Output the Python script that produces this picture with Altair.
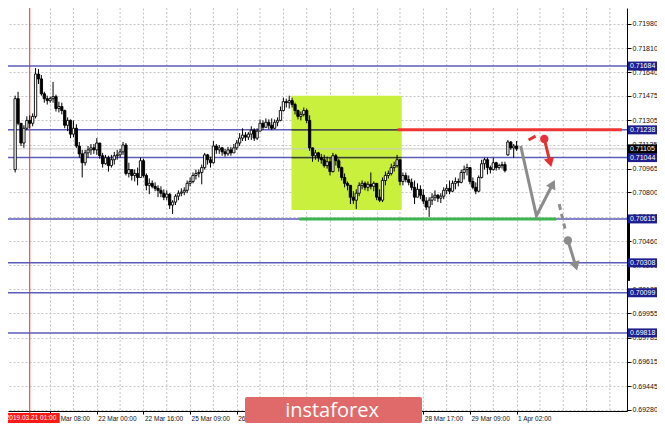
import altair as alt
import pandas as pd

# H1 candles, bar index 0 = 2019.03.21 01:00; prices in 1e-5 units
FIRST_BAR = -5
opens_e5 = [70960, 71456, 71284, 71146, 71249, 71304, 71284, 71332, 71628, 71594,
            71490, 71456, 71442, 71456, 71470, 71387, 71401, 71373, 71270, 71304,
            71208, 71249, 71125, 71070, 71008, 71077, 71098, 71112, 71098, 71146,
            71057, 71001, 71043, 70988, 71029, 71057, 71063, 71084, 71132, 70933,
            70960, 70919, 70933, 70905, 71022, 70919, 70850, 70864, 70843, 70829,
            70815, 70795, 70767, 70788, 70712, 70733, 70774, 70795, 70802, 70815,
            70864, 70877, 70919, 70933, 70940, 70974, 71063, 71029, 71008, 71125,
            71098, 71112, 71084, 71070, 71098, 71077, 71112, 71146, 71180, 71201,
            71187, 71208, 71236, 71180, 71229, 71284, 71256, 71291, 71270, 71249,
            71291, 71304, 71373, 71435, 71428, 71442, 71415, 71373, 71332, 71346,
            71373, 71304, 71112, 71057, 71077, 71043, 71029, 70988, 71015, 70946,
            71057, 71022, 70974, 70905, 70864, 70850, 70767, 70746, 70795, 70850,
            70864, 70836, 70857, 70843, 70864, 70767, 70746, 70884, 70919, 70933,
            70974, 70988, 71029, 70877, 70919, 70891, 70871, 70836, 70767, 70822,
            70781, 70740, 70698, 70746, 70767, 70781, 70760, 70774, 70815, 70829,
            70809, 70864, 70877, 70871, 70940, 70960, 70974, 70877, 70836, 70809,
            70905, 71001, 71029, 70974, 70960, 71008, 70974, 70988, 70995, 71063,
            71153, 71112, 71125]
highs_e5 = [71477, 71504, 71284, 71270, 71332, 71339, 71353, 71670, 71663, 71621,
            71504, 71477, 71470, 71573, 71484, 71435, 71428, 71380, 71325, 71311,
            71304, 71277, 71153, 71098, 71098, 71125, 71139, 71139, 71180, 71146,
            71077, 71063, 71057, 71063, 71084, 71098, 71105, 71153, 71146, 71008,
            70960, 70960, 70974, 71043, 71036, 70933, 70898, 70884, 70871, 70850,
            70843, 70822, 70815, 70795, 70746, 70788, 70815, 70829, 70836, 70884,
            70905, 70940, 70960, 70960, 70995, 71077, 71070, 71050, 71160, 71139,
            71132, 71119, 71105, 71119, 71119, 71139, 71167, 71215, 71249, 71222,
            71222, 71263, 71249, 71249, 71311, 71304, 71318, 71311, 71318, 71311,
            71325, 71401, 71463, 71456, 71477, 71463, 71428, 71380, 71366, 71394,
            71387, 71339, 71112, 71098, 71084, 71070, 71063, 71050, 71043, 71077,
            71070, 71036, 70981, 70933, 70877, 70850, 70809, 70822, 70871, 70884,
            70877, 70877, 70940, 70877, 70864, 70822, 70905, 70946, 70953, 71001,
            71015, 71063, 71029, 70940, 70940, 70919, 70898, 70884, 70864, 70850,
            70822, 70767, 70767, 70795, 70815, 70788, 70795, 70836, 70857, 70884,
            70884, 70905, 70898, 70960, 70988, 71001, 70974, 70905, 70871, 70919,
            71029, 71043, 71043, 70988, 71043, 71015, 71001, 71015, 71015, 71167,
            71160, 71139, 71160]
lows_e5 = [70940, 71270, 71125, 71112, 71236, 71249, 71263, 71318, 71559, 71477,
           71428, 71415, 71428, 71428, 71366, 71360, 71346, 71249, 71229, 71180,
           71187, 71112, 71043, 70905, 70988, 71043, 71063, 71070, 71063, 71036,
           70974, 70995, 70946, 70974, 70995, 71029, 71043, 71063, 70919, 70905,
           70884, 70877, 70850, 70905, 70905, 70815, 70788, 70829, 70809, 70767,
           70767, 70746, 70746, 70684, 70650, 70712, 70746, 70774, 70781, 70795,
           70843, 70864, 70891, 70905, 70857, 70960, 70995, 70974, 71001, 71070,
           71070, 71057, 71050, 71057, 71057, 71077, 71098, 71125, 71160, 71160,
           71167, 71167, 71160, 71167, 71229, 71236, 71256, 71242, 71236, 71242,
           71263, 71298, 71366, 71394, 71387, 71394, 71346, 71311, 71304, 71332,
           71284, 71091, 71015, 71029, 71015, 71001, 70974, 70967, 70919, 70940,
           70988, 70946, 70884, 70836, 70815, 70719, 70719, 70684, 70774, 70822,
           70815, 70809, 70822, 70809, 70746, 70733, 70733, 70850, 70898, 70919,
           70946, 70974, 70850, 70850, 70871, 70850, 70815, 70719, 70767, 70753,
           70719, 70678, 70629, 70712, 70740, 70733, 70726, 70753, 70788, 70788,
           70802, 70822, 70843, 70864, 70891, 70919, 70857, 70822, 70788, 70802,
           70898, 70960, 70926, 70933, 70953, 70953, 70960, 70967, 70940, 71057,
           71098, 71043, 71091]
closes_e5 = [71456, 71284, 71146, 71249, 71304, 71284, 71332, 71628, 71594, 71490,
             71456, 71442, 71456, 71470, 71387, 71401, 71373, 71270, 71304, 71208,
             71249, 71125, 71070, 71008, 71077, 71098, 71112, 71098, 71146, 71057,
             71001, 71043, 70988, 71029, 71057, 71063, 71084, 71132, 70933, 70960,
             70919, 70933, 70905, 71022, 70919, 70850, 70864, 70843, 70829, 70815,
             70795, 70767, 70788, 70712, 70733, 70774, 70795, 70802, 70815, 70864,
             70877, 70919, 70933, 70940, 70974, 71063, 71029, 71008, 71125, 71098,
             71112, 71084, 71070, 71098, 71077, 71112, 71146, 71180, 71201, 71187,
             71208, 71236, 71180, 71229, 71284, 71256, 71291, 71270, 71249, 71291,
             71304, 71373, 71435, 71428, 71442, 71415, 71373, 71332, 71346, 71373,
             71304, 71112, 71057, 71077, 71043, 71029, 70988, 71015, 70946, 71057,
             71022, 70974, 70905, 70864, 70850, 70767, 70746, 70795, 70850, 70864,
             70836, 70857, 70843, 70864, 70767, 70746, 70884, 70919, 70933, 70974,
             70988, 71029, 70877, 70919, 70891, 70871, 70836, 70767, 70822, 70781,
             70740, 70698, 70746, 70767, 70781, 70760, 70774, 70815, 70829, 70809,
             70864, 70877, 70871, 70940, 70960, 70974, 70877, 70836, 70809, 70905,
             71001, 71029, 70974, 70960, 71008, 70974, 70988, 70995, 70953, 71153,
             71112, 71125, 71105]

x_label_bars = [7, 23, 39, 55, 71, 87, 103, 119, 135, 151, 167]
x_labels = ["21 Mar 08:00", "22 Mar 00:00", "22 Mar 16:00", "25 Mar 09:00", "26 Mar 01:00",
            "26 Mar 17:00", "27 Mar 09:00", "28 Mar 01:00", "28 Mar 17:00", "29 Mar 09:00",
            "1 Apr 02:00"]
x_minor_grid = [15, 31, 47, 63, 79, 95, 111, 127, 143, 159, 175, 183, 191, 199]
y_ticks = [0.71980, 0.71810, 0.71640, 0.71475, 0.71305, 0.71135, 0.70965, 0.70800, 0.70630,
           0.70460, 0.70290, 0.70125, 0.69955, 0.69785, 0.69615, 0.69445, 0.69280]

level_prices = [0.71684, 0.71238, 0.71044, 0.70615, 0.70308, 0.70099, 0.69818]
current_price = 0.71105
marker_bar = 0
marker_label = "2019.03.21 01:00"

zone_bars = [89.8, 127.6]
zone_prices = [0.70678, 0.71477]
resist_price, resist_bars = 0.71238, [126.2, 203.1]
support_price, support_bars = 0.70615, [92.5, 180.6]
side_bar_prices = [0.70615, 0.70182]

gray_path_bars = [168.4, 173.8, 179.4]
gray_path_prices = [0.71126, 0.70637, 0.70859]
gray_dash_bars = [181.6, 183.6]
gray_dash_prices = [0.70719, 0.70547]
gray_dot = (184.6, 0.70464)
gray_tail_bars = [184.6, 187.3]
gray_tail_prices = [0.70464, 0.70285]
red_dash_bars = [171.1, 173.5]
red_dash_prices = [0.71167, 0.71194]
red_dot = (176.5, 0.71174)
red_tail_bars = [176.5, 178.5]
red_tail_prices = [0.71174, 0.71009]
heads = [(179.4, 0.70859, 27, "#8c8c8c"), (187.3, 0.70285, 163, "#8c8c8c"),
         (178.5, 0.71009, 166, "#e03030")]

W, H = 619, 403
FONT = "Liberation Sans"
GRAY = "#8c8c8c"
BLUE = "#5c5cbc"
NAVY = "#1e1e8e"

bars = pd.DataFrame({
    "i": list(range(FIRST_BAR, FIRST_BAR + len(closes_e5))),
    "open": [v / 1e5 for v in opens_e5],
    "high": [v / 1e5 for v in highs_e5],
    "low": [v / 1e5 for v in lows_e5],
    "close": [v / 1e5 for v in closes_e5],
})

xs = alt.Scale(domain=[-5.74, 203.15], nice=False, zero=False)
ys = alt.Scale(domain=[0.69272, 0.72090], nice=False, zero=False)

label_expr = "[" + ",".join("'%s'" % s for s in x_labels) + "][indexof([" + \
    ",".join(str(v) for v in x_label_bars) + "], datum.value)]"

x_axis = alt.Axis(values=x_label_bars, labelExpr=label_expr, title=None, grid=True,
                  gridColor="#c4c4c4", gridDash=[2, 2], domainColor="black", tickColor="black",
                  tickSize=3, labelAlign="left", labelBaseline="top", labelFont=FONT,
                  labelFontSize=6.5, labelColor="#111", labelPadding=1, labelOffset=1,
                  labelOverlap=False, labelFlush=False)
y_axis = alt.Axis(orient="right", values=y_ticks, format=".5f", title=None, grid=True,
                  gridColor="#c4c4c4", gridDash=[2, 2], domainColor="black", tickColor="black",
                  tickSize=4, labelFont=FONT, labelFontSize=7, labelColor="#111",
                  labelPadding=1, labelOverlap=False, labelFlush=False)


def X(f):
    return alt.X(f"{f}:Q", scale=xs, axis=x_axis)


def Y(f):
    return alt.Y(f"{f}:Q", scale=ys, axis=y_axis)


layers = []

# minor vertical grid
layers.append(alt.Chart(pd.DataFrame({"g": x_minor_grid})).mark_rule(
    color="#c4c4c4", strokeDash=[2, 2], strokeWidth=1).encode(
    x=X("g"), y=alt.value(0), y2=alt.value(H)))

# zone rectangle
layers.append(alt.Chart(pd.DataFrame({"x0": [zone_bars[0]], "x1": [zone_bars[1]],
                                      "p0": [zone_prices[0]], "p1": [zone_prices[1]]}))
              .mark_rect(color="#c8f03c").encode(x=X("x0"), x2="x1", y=Y("p0"), y2="p1"))

# horizontal levels
layers.append(alt.Chart(pd.DataFrame({"p": level_prices})).mark_rule(
    color=BLUE, strokeWidth=1.5).encode(x=alt.value(0), x2=alt.value(W), y=Y("p")))
layers.append(alt.Chart(pd.DataFrame({"x0": [zone_bars[0]] * 2, "x1": [zone_bars[1]] * 2,
                                      "p": [0.71238, 0.71044]}))
              .mark_rule(color="#3c4418", strokeWidth=1.2).encode(x=X("x0"), x2="x1", y=Y("p")))
layers.append(alt.Chart(pd.DataFrame({"p": [current_price]})).mark_rule(
    color="#c8c8c8", strokeWidth=1).encode(x=alt.value(0), x2=alt.value(W), y=Y("p")))

# red vertical marker
layers.append(alt.Chart(pd.DataFrame({"i": [marker_bar]})).mark_rule(
    color="#ff2020", strokeWidth=1).encode(x=X("i"), y=alt.value(0), y2=alt.value(H + 2)))

# candles
layers.append(alt.Chart(bars).mark_rule(color="black", strokeWidth=1).encode(
    x=X("i"), y=Y("low"), y2="high"))
layers.append(alt.Chart(bars).mark_bar(size=2.3, stroke="black", strokeWidth=0.9).encode(
    x=X("i"), y=Y("open"), y2="close",
    fill=alt.condition("datum.close > datum.open", alt.value("white"), alt.value("black"))))

# resistance / support
layers.append(alt.Chart(pd.DataFrame({"x0": [resist_bars[0]], "x1": [resist_bars[1]],
                                      "p": [resist_price]}))
              .mark_rule(color="#f03434", strokeWidth=3).encode(x=X("x0"), x2="x1", y=Y("p")))
layers.append(alt.Chart(pd.DataFrame({"x0": [support_bars[0]], "x1": [support_bars[1]],
                                      "p": [support_price]}))
              .mark_rule(color="#3cb450", strokeWidth=3).encode(x=X("x0"), x2="x1", y=Y("p")))


# scenario arrows
def path_layer(bx, py, color, dash=None):
    df = pd.DataFrame({"x": bx, "p": py, "o": list(range(len(bx)))})
    kw = dict(color=color, strokeWidth=3, strokeCap="butt")
    if dash:
        kw["strokeDash"] = dash
    return alt.Chart(df).mark_line(**kw).encode(x=X("x"), y=Y("p"), order="o:Q")


layers.append(path_layer(gray_path_bars, gray_path_prices, GRAY))
layers.append(path_layer(gray_dash_bars, gray_dash_prices, GRAY, [6, 4]))
layers.append(path_layer(gray_tail_bars, gray_tail_prices, GRAY))
layers.append(path_layer(red_dash_bars, red_dash_prices, "#e03030"))
layers.append(path_layer(red_tail_bars, red_tail_prices, "#e03030"))
layers.append(alt.Chart(pd.DataFrame({"x": [gray_dot[0], red_dot[0]], "p": [gray_dot[1], red_dot[1]],
                                      "c": [GRAY, "#e83038"]}))
              .mark_circle(size=70, opacity=1).encode(x=X("x"), y=Y("p"),
                                                       color=alt.Color("c:N", scale=None)))
layers.append(alt.Chart(pd.DataFrame({"x": [h[0] for h in heads], "p": [h[1] for h in heads],
                                      "a": [h[2] for h in heads], "c": [h[3] for h in heads]}))
              .mark_point(shape="triangle-up", filled=True, size=110, opacity=1).encode(
    x=X("x"), y=Y("p"), angle=alt.Angle("a:Q", scale=None),
    color=alt.Color("c:N", scale=None)))

# right price boxes
box_prices = level_prices + [current_price]
box_df = pd.DataFrame({"p": box_prices, "t": [f"{v:.5f}" for v in box_prices],
                       "bg": [NAVY] * len(level_prices) + ["#000000"]})
layers.append(alt.Chart(pd.DataFrame({"p0": [side_bar_prices[0]], "p1": [side_bar_prices[1]]}))
              .mark_rule(color="black", strokeWidth=3).encode(
    x=alt.value(W + 1.5), y=Y("p0"), y2="p1"))
layers.append(alt.Chart(box_df).mark_rect(yOffset=-4.5, y2Offset=4.5).encode(
    x=alt.value(W + 1), x2=alt.value(W + 30), y=Y("p"), y2="p",
    fill=alt.Color("bg:N", scale=None)))
layers.append(alt.Chart(box_df).mark_text(align="left", baseline="middle", color="white",
                                          font=FONT, fontSize=7).encode(
    x=alt.value(W + 3), y=Y("p"), text="t:N"))

# date marker box
mk = pd.DataFrame({"i": [marker_bar], "t": [marker_label]})
layers.append(alt.Chart(mk).mark_rect(color="#ff1a1a", xOffset=-25, x2Offset=30).encode(
    x=X("i"), x2="i", y=alt.value(H + 2), y2=alt.value(H + 12)))
layers.append(alt.Chart(mk).mark_text(align="left", baseline="middle", color="white",
                                      font=FONT, fontSize=6.5, dx=-24).encode(
    x=X("i"), y=alt.value(H + 7), text="t:N"))

# watermark
layers.append(alt.Chart(pd.DataFrame({"t": ["instaforex"]})).mark_rect(
    color="#e06a6a", cornerRadius=2).encode(
    x=alt.value(237), x2=alt.value(414), y=alt.value(389), y2=alt.value(415)))
layers.append(alt.Chart(pd.DataFrame({"t": ["instaforex"]})).mark_text(
    align="center", baseline="alphabetic", color="white", font="Open Sans", fontSize=20).encode(
    x=alt.value(324), y=alt.value(409), text="t:N"))

chart = alt.layer(*layers).properties(
    width=W, height=H,
    padding={"left": 0, "top": 0, "right": 30, "bottom": 12},
    autosize=alt.AutoSizeParams(type="none"),
    background="white",
).configure_view(stroke=None)

chart.save("out.html", embed_options={"renderer": "svg", "actions": False})
